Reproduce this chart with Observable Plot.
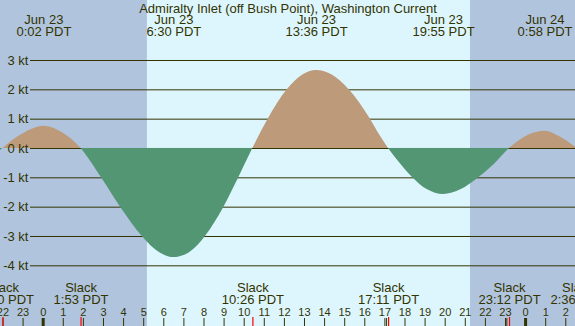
<!DOCTYPE html>
<html>
<head>
<meta charset="utf-8">
<script src="https://cdn.jsdelivr.net/npm/d3@7"></script>
<script src="https://cdn.jsdelivr.net/npm/@observablehq/plot@0.6"></script>
<style>
  html, body { margin: 0; padding: 0; background: #b0c4de; overflow: hidden; }
</style>
</head>
<body>
<div id="chart"></div>
<script>
// ---- data (hours measured from Jun 23 00:00 PDT) ----
const title = "Admiralty Inlet (off Bush Point), Washington Current";

// current speed (kt; + flood, - ebb)
const flowHours = [-2.12, -2.0, -1.0, 0.03, 1.0, 1.88, 2.9, 3.85, 4.93, 5.5, 6.5, 7.33, 8.07, 8.99, 9.73, 10.43, 11.19, 12.14, 12.9, 13.6, 14.4, 15.2, 16.28, 16.75, 17.18, 17.7, 18.36, 19.1, 19.92, 20.8, 21.59, 22.4, 23.2, 24.2, 24.97, 25.7, 26.48];
const flowKnots = [-0.07, 0, 0.5, 0.76, 0.52, 0, -1.0, -2.0, -3.0, -3.4, -3.72, -3.53, -3.0, -2.0, -1.0, 0, 1.0, 2.0, 2.5, 2.66, 2.5, 2.02, 1.0, 0.45, 0, -0.46, -0.98, -1.4, -1.57, -1.4, -1.04, -0.57, 0, 0.47, 0.59, 0.4, 0.05];

// max flood / max ebb labels (top)
const extremeDates = ["Jun 23", "Jun 23", "Jun 23", "Jun 23", "Jun 24"];
const extremeTimes = ["0:02", "6:30", "13:36", "19:55", "0:58"];

// slack labels (bottom)
const slackDates = ["Jun 22", "Jun 23", "Jun 23", "Jun 23", "Jun 23", "Jun 24"];
const slackTimes = ["22:00", "1:53", "10:26", "17:11", "23:12", "2:36"];

// other event marks on the time axis
const eventDates = ["Jun 23", "Jun 23"];
const eventTimes = ["17:05", "23:04"];

// sun
const sunriseTime = "5:11";
const sunsetTime = "21:16";

// axis ticks
const knotTicks = [3, 2, 1, 0, -1, -2, -3, -4];
const hourTicks = d3.range(-2, 27);

// ---- helpers ----
const dayOffset = {"Jun 22": -1, "Jun 23": 0, "Jun 24": 1};
function toHours(date, time) {
  const [hh, mm] = time.split(":").map(Number);
  return dayOffset[date] * 24 + hh + mm / 60;
}

const flow = flowHours.map((h, i) => ({h, v: flowKnots[i]}));
const extremes = extremeTimes.map((t, i) => ({h: toHours(extremeDates[i], t), date: extremeDates[i], time: t}));
const slacks = slackTimes.map((t, i) => ({h: toHours(slackDates[i], t), time: t}));
const events = eventTimes.map((t, i) => toHours(eventDates[i], t));

// layout
const W = 575, H = 326;
const xMin = -2.124, xMax = 26.483;
const yMin = -6.069, yMax = 5.046;
const sunrise = toHours("Jun 23", sunriseTime), sunset = toHours("Jun 23", sunsetTime);
const bands = [
  {start: xMin, end: sunrise, night: true},
  {start: sunrise, end: sunset, night: false},
  {start: sunset, end: xMax, night: true}
];

const NIGHT = "#b0c4de", DAY = "#ddf6fe", INK = "#333300";
const FLOOD = "#bc9a7a", EBB = "#529674";

const chart = Plot.plot({
  width: W,
  height: H,
  margin: 0,
  x: {domain: [xMin, xMax], axis: null},
  y: {domain: [yMin, yMax], axis: null},
  style: {fontFamily: "'Liberation Sans', Arial, sans-serif", fontSize: "13px", color: INK, background: NIGHT},
  marks: [
    Plot.rect(bands, {x1: "start", x2: "end", fill: d => d.night ? NIGHT : DAY}),
    Plot.ruleY(knotTicks, {y: d => d, stroke: INK, strokeWidth: 1, insetLeft: 30}),
    Plot.areaY(flow, {x: "h", y: "v", curve: "monotone-x", fill: FLOOD}),
    Plot.text(knotTicks, {y: d => d, text: d => `${d} kt`, frameAnchor: "left", dx: 28, textAnchor: "end", fontSize: 13}),
    Plot.text([title], {frameAnchor: "top", lineAnchor: "top", dy: 3, fontSize: 13}),
    Plot.text(extremes, {x: "h", text: d => `${d.date}\n${d.time} PDT`, frameAnchor: "top", lineAnchor: "top", dy: 15, lineHeight: 0.9, fontSize: 13}),
    Plot.text(slacks, {x: "h", text: d => `Slack\n${d.time} PDT`, frameAnchor: "top", lineAnchor: "top", dy: 283, lineHeight: 0.9, fontSize: 13}),
    Plot.text(hourTicks, {x: d => d, text: d => String(((d % 24) + 24) % 24), frameAnchor: "top", lineAnchor: "top", dy: 308, fontSize: 11}),
    Plot.ruleX(hourTicks, {x: d => d, stroke: INK, strokeWidth: d => (((d % 24) + 24) % 24) === 0 ? 3 : 1, insetTop: 318}),
    Plot.ruleX(events, {x: d => d, stroke: INK, strokeWidth: 1, insetTop: 318}),
    Plot.ruleX(slacks, {x: "h", stroke: "#ff0000", strokeWidth: 1.2, insetTop: 317})
  ]
});

// split the area fill at zero: flood above, ebb below
const y0 = chart.scale("y").apply(0);
const ns = "http://www.w3.org/2000/svg";
const defs = document.createElementNS(ns, "defs");
const grad = document.createElementNS(ns, "linearGradient");
grad.setAttribute("id", "flowFill");
grad.setAttribute("gradientUnits", "userSpaceOnUse");
grad.setAttribute("x1", 0); grad.setAttribute("x2", 0);
grad.setAttribute("y1", 0); grad.setAttribute("y2", H);
[[0, FLOOD], [y0 / H, FLOOD], [y0 / H, EBB], [1, EBB]].forEach(([o, c]) => {
  const s = document.createElementNS(ns, "stop");
  s.setAttribute("offset", o);
  s.setAttribute("stop-color", c);
  grad.appendChild(s);
});
defs.appendChild(grad);
chart.insertBefore(defs, chart.firstChild);
chart.querySelectorAll('g[aria-label="area"]').forEach(g => {
  g.setAttribute("fill", "url(#flowFill)");
  g.querySelectorAll("path").forEach(p => p.setAttribute("fill", "url(#flowFill)"));
});

document.getElementById("chart").appendChild(chart);
</script>
</body>
</html>
